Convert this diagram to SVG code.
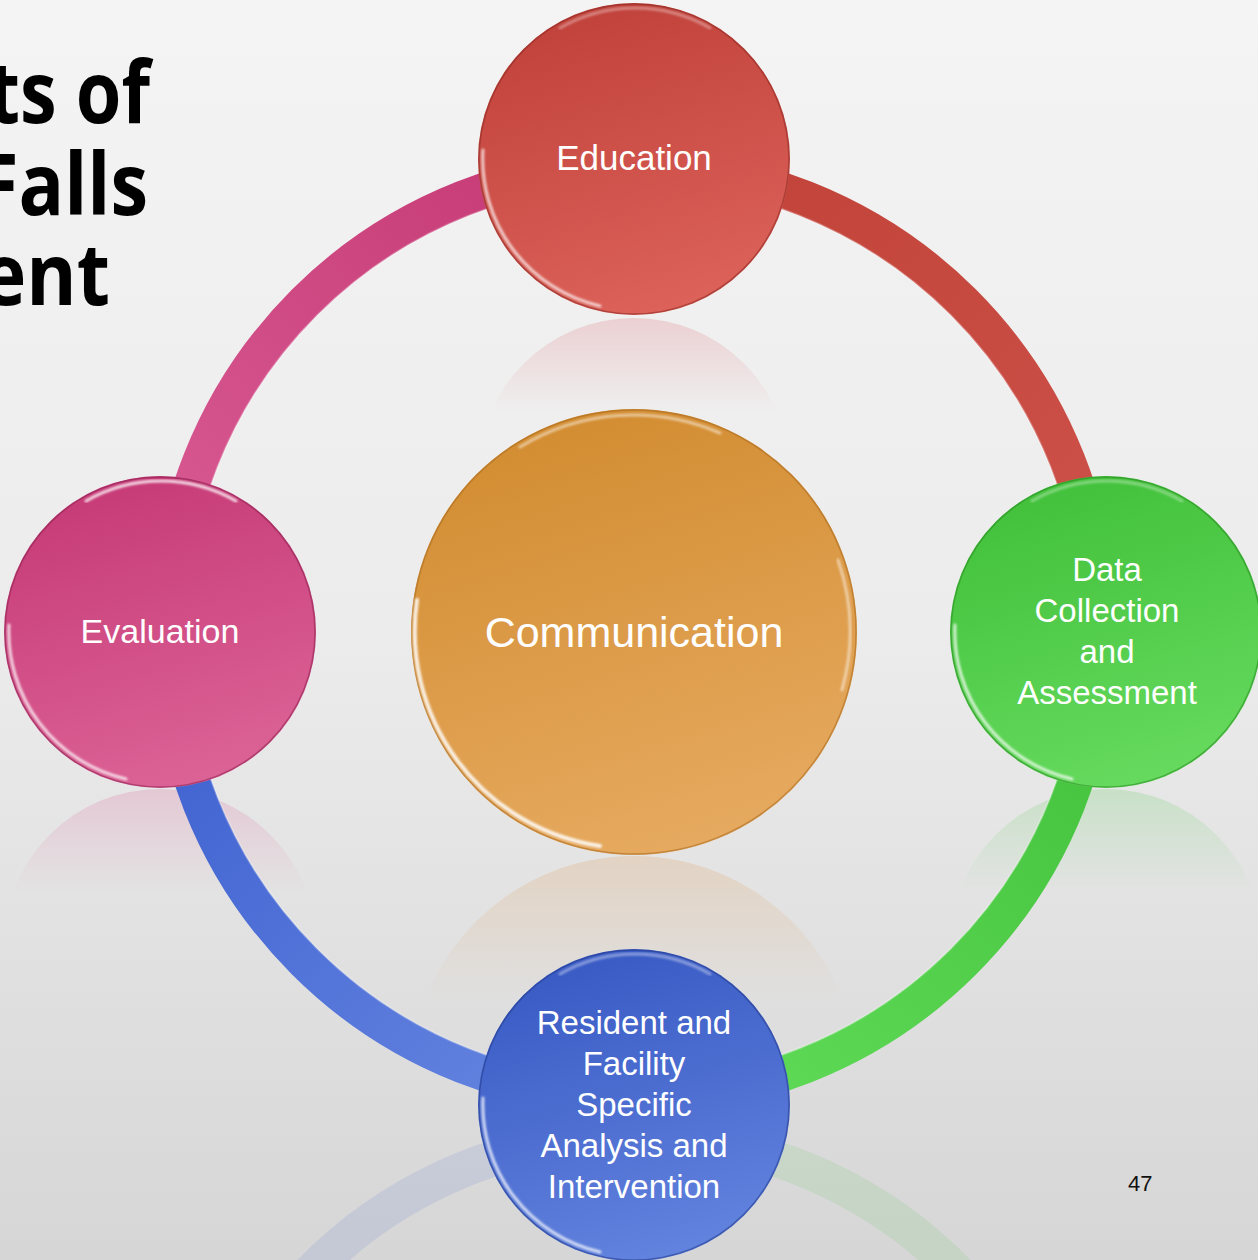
<svg xmlns="http://www.w3.org/2000/svg" width="1258" height="1260" viewBox="0 0 1258 1260">
  <style>
    .title { font-family: "Open Sans", "Liberation Sans", sans-serif; font-weight: 700; font-size: 86px; fill: #000; }
    .lbl { font-family: "Liberation Sans", "Noto Sans", sans-serif; fill: #fff; text-anchor: middle; }
    .rim { fill: none; stroke: #ffffff; stroke-linecap: round; filter: url(#soft); }
    .edge { fill: none; stroke-opacity: 0.55; stroke-width: 1.5; }
    .band { fill: none; stroke-width: 36; }
    .bandhi { fill: none; stroke: #ffffff; stroke-opacity: 0.3; stroke-width: 2; }
    .pg { font-family: "Liberation Sans", sans-serif; font-size: 22px; fill: #111; }
  </style>
  <defs>
    <filter id="soft" x="-10%" y="-10%" width="120%" height="120%">
      <feGaussianBlur stdDeviation="0.8"/>
    </filter>
    <linearGradient id="bg" x1="0" y1="0" x2="0" y2="1">
      <stop offset="0" stop-color="#f4f4f4"/>
      <stop offset="0.5" stop-color="#ececec"/>
      <stop offset="1" stop-color="#d6d6d6"/>
    </linearGradient>
    <!-- disc fills -->
    <linearGradient id="gRed" x1="0.3" y1="0" x2="0.6" y2="1">
      <stop offset="0" stop-color="#c0413a"/>
      <stop offset="1" stop-color="#dc625a"/>
    </linearGradient>
    <linearGradient id="gPink" x1="0.3" y1="0" x2="0.6" y2="1">
      <stop offset="0" stop-color="#c63a76"/>
      <stop offset="1" stop-color="#dc6396"/>
    </linearGradient>
    <linearGradient id="gGreen" x1="0.3" y1="0" x2="0.6" y2="1">
      <stop offset="0" stop-color="#41c03a"/>
      <stop offset="1" stop-color="#66da5e"/>
    </linearGradient>
    <linearGradient id="gBlue" x1="0.3" y1="0" x2="0.6" y2="1">
      <stop offset="0" stop-color="#3859c3"/>
      <stop offset="1" stop-color="#6283de"/>
    </linearGradient>
    <linearGradient id="gOrange" x1="0.3" y1="0" x2="0.6" y2="1">
      <stop offset="0" stop-color="#d28c30"/>
      <stop offset="1" stop-color="#e6aa60"/>
    </linearGradient>
    <!-- ring segment strokes -->
    <linearGradient id="aRed" gradientUnits="userSpaceOnUse" x1="790" y1="170" x2="1100" y2="500">
      <stop offset="0" stop-color="#c2443a"/>
      <stop offset="1" stop-color="#cc5048"/>
    </linearGradient>
    <linearGradient id="aPink" gradientUnits="userSpaceOnUse" x1="480" y1="180" x2="175" y2="480">
      <stop offset="0" stop-color="#c83e78"/>
      <stop offset="1" stop-color="#d65690"/>
    </linearGradient>
    <linearGradient id="aGreen" gradientUnits="userSpaceOnUse" x1="1090" y1="780" x2="790" y2="1080">
      <stop offset="0" stop-color="#48c540"/>
      <stop offset="1" stop-color="#5cd855"/>
    </linearGradient>
    <linearGradient id="aBlue" gradientUnits="userSpaceOnUse" x1="480" y1="1080" x2="180" y2="790">
      <stop offset="0" stop-color="#6080de"/>
      <stop offset="1" stop-color="#4466d2"/>
    </linearGradient>
    <!-- mirrored reflections: colour fades out a short way below each disc -->
    <linearGradient id="rRed" x1="0" y1="0" x2="0" y2="0.3">
      <stop offset="0" stop-color="#d8505a" stop-opacity="0.2"/>
      <stop offset="1" stop-color="#d8505a" stop-opacity="0"/>
    </linearGradient>
    <linearGradient id="rOrange" x1="0" y1="0" x2="0" y2="0.32">
      <stop offset="0" stop-color="#dda060" stop-opacity="0.25"/>
      <stop offset="1" stop-color="#dda060" stop-opacity="0"/>
    </linearGradient>
    <linearGradient id="rPink" x1="0" y1="0" x2="0" y2="0.33">
      <stop offset="0" stop-color="#d8508a" stop-opacity="0.2"/>
      <stop offset="1" stop-color="#d8508a" stop-opacity="0"/>
    </linearGradient>
    <linearGradient id="rGreen" x1="0" y1="0" x2="0" y2="0.33">
      <stop offset="0" stop-color="#50c84a" stop-opacity="0.2"/>
      <stop offset="1" stop-color="#50c84a" stop-opacity="0"/>
    </linearGradient>
  </defs>

  <rect width="1258" height="1260" fill="url(#bg)"/>

  <!-- reflections -->
  <g id="reflections">
    <circle cx="634" cy="474" r="156" fill="url(#rRed)"/>
    <circle cx="634" cy="1079" r="223" fill="url(#rOrange)"/>
    <circle cx="160" cy="945" r="156" fill="url(#rPink)"/>
    <circle cx="1106" cy="945" r="156" fill="url(#rGreen)"/>
    <path d="M634 1136 A452 452 0 0 0 290 1295" fill="none" stroke="#7088d8" stroke-opacity="0.17" stroke-width="36"/>
    <path d="M634 1136 A452 452 0 0 1 978 1295" fill="none" stroke="#70cc70" stroke-opacity="0.17" stroke-width="36"/>
  </g>

  <!-- title -->
  <g id="title">
    <text class="title" x="-12" y="123" textLength="162" lengthAdjust="spacingAndGlyphs">ts of</text>
    <text class="title" x="-23" y="215" textLength="171" lengthAdjust="spacingAndGlyphs">Falls</text>
    <text class="title" x="-19" y="305" textLength="129" lengthAdjust="spacingAndGlyphs">ent</text>
  </g>

  <!-- connectors: ring segments -->
  <g id="connectors">
    <path class="band" stroke="url(#aRed)" d="M634 166 A466 466 0 0 1 1100 632"/>
    <path class="bandhi" d="M634 184 A448 448 0 0 1 1082 632"/>
    <path class="band" stroke="url(#aGreen)" d="M1100 632 A466 466 0 0 1 634 1098"/>
    <path class="bandhi" d="M1082 632 A448 448 0 0 1 634 1080"/>
    <path class="band" stroke="url(#aBlue)" d="M634 1098 A466 466 0 0 1 168 632"/>
    <path class="bandhi" d="M634 1080 A448 448 0 0 1 186 632"/>
    <path class="band" stroke="url(#aPink)" d="M168 632 A466 466 0 0 1 634 166"/>
    <path class="bandhi" d="M186 632 A448 448 0 0 1 634 184"/>
  </g>

  <!-- nodes -->
  <g id="node-communication">
    <circle cx="634" cy="632" r="223" fill="url(#gOrange)"/>
    <circle class="edge" cx="634" cy="632" r="222" stroke="#a86a20"/>
    <path class="rim" stroke="#fff6b0" stroke-opacity="0.85" stroke-width="4" d="M417 600 A217 217 0 0 0 600 846"/>
    <path class="rim" stroke="#ffe9a0" stroke-opacity="0.5" stroke-width="3" d="M520 447 A217 217 0 0 1 720 433"/>
    <path class="rim" stroke="#fff0c0" stroke-opacity="0.5" stroke-width="3" d="M838 560 A217 217 0 0 1 842 690"/>
    <text class="lbl" x="634" y="647" font-size="43">Communication</text>
  </g>

  <g id="node-education">
    <circle cx="634" cy="159" r="156" fill="url(#gRed)"/>
    <circle class="edge" cx="634" cy="159" r="155" stroke="#8a2a22"/>
    <path class="rim" stroke-opacity="0.7" stroke-width="3" d="M483 150 A151 151 0 0 0 600 306"/>
    <path class="rim" stroke-opacity="0.35" stroke-width="3" d="M560 28 A151 151 0 0 1 710 28"/>
    <text class="lbl" x="634" y="170" font-size="35">Education</text>
  </g>

  <g id="node-evaluation">
    <circle cx="160" cy="632" r="156" fill="url(#gPink)"/>
    <circle class="edge" cx="160" cy="632" r="155" stroke="#8a2050"/>
    <path class="rim" stroke-opacity="0.75" stroke-width="3" d="M9 625 A151 151 0 0 0 126 779"/>
    <path class="rim" stroke="#ff9ccc" stroke-opacity="0.8" stroke-width="3" d="M86 501 A151 151 0 0 1 236 501"/>
    <text class="lbl" x="160" y="643" font-size="34">Evaluation</text>
  </g>

  <g id="node-data">
    <circle cx="1106" cy="632" r="156" fill="url(#gGreen)"/>
    <circle class="edge" cx="1106" cy="632" r="155" stroke="#2a8a22"/>
    <path class="rim" stroke-opacity="0.75" stroke-width="3" d="M955 625 A151 151 0 0 0 1072 779"/>
    <path class="rim" stroke-opacity="0.35" stroke-width="3" d="M1032 501 A151 151 0 0 1 1182 501"/>
    <text class="lbl" font-size="33" x="1107" y="581">Data</text>
    <text class="lbl" font-size="33" x="1107" y="622">Collection</text>
    <text class="lbl" font-size="33" x="1107" y="663">and</text>
    <text class="lbl" font-size="33" x="1107" y="704">Assessment</text>
  </g>

  <g id="node-resident">
    <circle cx="634" cy="1105" r="156" fill="url(#gBlue)"/>
    <circle class="edge" cx="634" cy="1105" r="155" stroke="#223a8a"/>
    <path class="rim" stroke-opacity="0.75" stroke-width="3" d="M483 1098 A151 151 0 0 0 600 1252"/>
    <path class="rim" stroke-opacity="0.4" stroke-width="3" d="M560 974 A151 151 0 0 1 710 974"/>
    <text class="lbl" font-size="33" x="634" y="1034">Resident and</text>
    <text class="lbl" font-size="33" x="634" y="1075">Facility</text>
    <text class="lbl" font-size="33" x="634" y="1116">Specific</text>
    <text class="lbl" font-size="33" x="634" y="1157">Analysis and</text>
    <text class="lbl" font-size="33" x="634" y="1198">Intervention</text>
  </g>

  <text class="pg" x="1128" y="1191">47</text>
</svg>
